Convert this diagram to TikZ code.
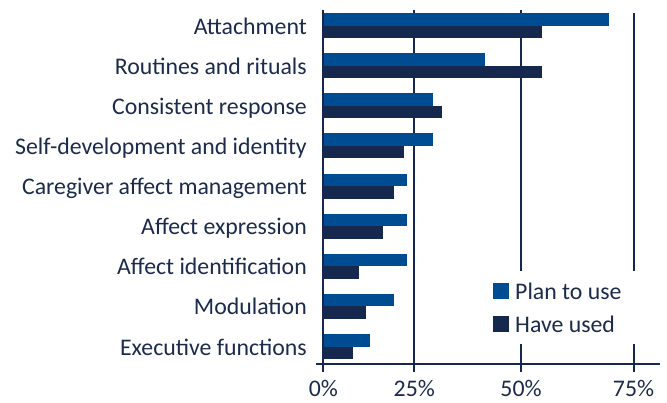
\documentclass[tikz,border=0pt]{standalone}
\usepackage{fontspec}
\setmainfont{Carlito}
\definecolor{planblue}{HTML}{004C93}
\definecolor{navy}{HTML}{16284D}
\definecolor{txt}{HTML}{1C2B4C}
\begin{document}
\begin{tikzpicture}[x=1pt,y=-1pt,
  lab/.style={anchor=base east,inner sep=0pt,text=txt,font=\fontsize{23.8}{28}\selectfont},
  ticklab/.style={anchor=base,inner sep=0pt,text=txt,font=\fontsize{23.8}{28}\selectfont},
  leglab/.style={anchor=base west,inner sep=0pt,text=txt,font=\fontsize{23.8}{28}\selectfont},
  grid/.style={draw=navy,line width=2pt},
  planbar/.style={fill=planblue,draw=none},
  havebar/.style={fill=navy,draw=none}]
\useasboundingbox (0,0) rectangle (667,402);
% gridlines
\draw[grid] (414.3,10) coordinate (g1t) -- (414.3,371.7) coordinate (g1b);
\draw[grid] (521,10) coordinate (g2t) -- (521,371.7) coordinate (g2b);
\draw[grid] (633.5,13) coordinate (g3t) -- (633.5,371.7) coordinate (g3b);
% legend background
\fill[white] (490,270.7) rectangle (662,344);
% bars
\def\x{323.3}
\foreach \i/\p/\h/\name in {0/609/542/Attachment,1/485/542/Routines and rituals,2/433/442/Consistent response,3/433/404/Self-development and identity,4/407/394/Caregiver affect management,5/407/383/Affect expression,6/407/359/Affect identification,7/394/366/Modulation,8/370/353/Executive functions}{
  \pgfmathsetmacro{\t}{13+40.125*\i}
  \fill[planblue] (\x,\t) rectangle (\p,\t+12.6);
  \fill[navy] (\x,\t+12.6) rectangle (\h,\t+25);
  \node[lab] (l\i) at (307,\t+21) {\name};
}
% axes
\draw[grid] (323.3,10) coordinate (yt) -- (323.3,371.7) coordinate (yb);
\draw[grid] (316,364) coordinate (xl) -- (660,364) coordinate (xr);
% tick labels
\node[ticklab] (t0) at (323.3,396.5) {0\%};
\node[ticklab] (t1) at (414.3,396.5) {25\%};
\node[ticklab] (t2) at (521,396.5) {50\%};
\node[ticklab] (t3) at (633.5,396.5) {75\%};
% legend
\fill[planblue] (492.7,283.3) rectangle (508.7,299);
\fill[navy] (492.7,316) rectangle (508.7,331.7);
\node[leglab] (lp) at (515,299) {Plan to use};
\node[leglab] (lh) at (515,332) {Have used};
\end{tikzpicture}
\end{document}
